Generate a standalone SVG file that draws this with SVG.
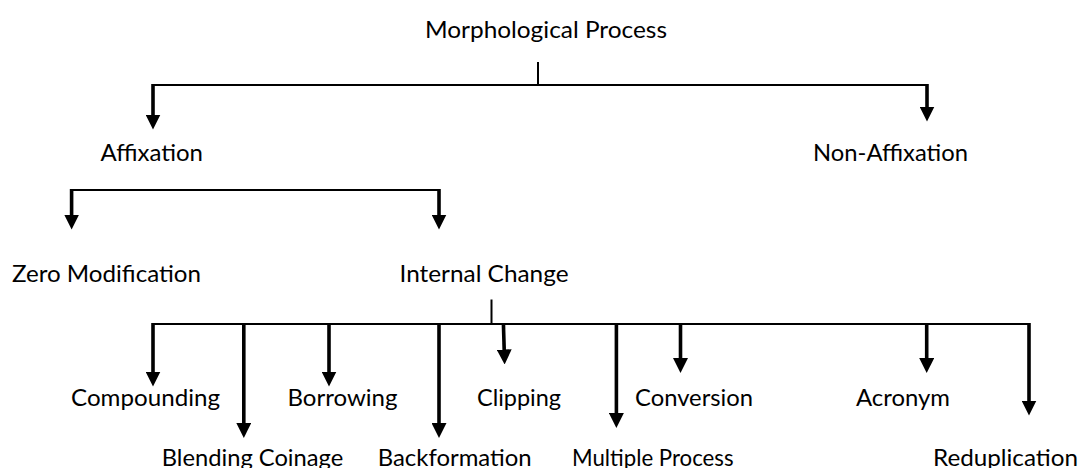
<svg xmlns="http://www.w3.org/2000/svg" width="1081" height="468" viewBox="0 0 1081 468">
  <style>
    .bg { fill: #ffffff; }
    .label { font-family: Lato, "Open Sans", "Liberation Sans", sans-serif; font-size: 23px; fill: #000000; }
    .bar { fill: none; stroke: #000000; stroke-width: 2; }
    .shaft { fill: none; stroke: #000000; stroke-width: 3.6; marker-end: url(#head); }
  </style>
  <defs>
    <marker id="head" viewBox="0 -7.5 15 15" refX="0.5" refY="0" markerWidth="15" markerHeight="15" markerUnits="userSpaceOnUse" orient="auto">
      <path d="M0,-7.5 L15,0 L0,7.5 Z" fill="#000000"/>
    </marker>
  </defs>

  <rect class="bg" x="0" y="0" width="1081" height="468"/>

  <!-- connectors: branch bars, ticks and arrows -->
  <g id="connectors">
    <!-- root split -->
    <path class="bar" d="M538,62 V85"/>
    <path class="bar" d="M152,85 H928"/>
    <path class="shaft" d="M153,84 V115"/>
    <path class="shaft" d="M927,84 V107"/>

    <!-- affixation split -->
    <path class="bar" d="M70.5,190 H440"/>
    <path class="shaft" d="M71.6,189 V215"/>
    <path class="shaft" d="M439,189 V215"/>

    <!-- internal change split -->
    <path class="bar" d="M491.5,299.5 V324"/>
    <path class="bar" d="M152,324 H1030"/>
    <path class="shaft" d="M153,323 V372"/>
    <path class="shaft" d="M243.8,323 V423.5"/>
    <path class="shaft" d="M329,323 V372"/>
    <path class="shaft" d="M439,323 V423.5"/>
    <path class="shaft" d="M503.4,323 L504.2,350"/>
    <path class="shaft" d="M616.4,323 V413.5"/>
    <path class="shaft" d="M680.5,323 V358.5"/>
    <path class="shaft" d="M926.7,323 V358.5"/>
    <path class="shaft" d="M1029,323 V401"/>
  </g>

  <!-- nodes -->
  <g id="node-morphological-process">
    <text class="label" x="425" y="37.5" textLength="242" lengthAdjust="spacingAndGlyphs">Morphological Process</text>
  </g>
  <g id="node-affixation">
    <text class="label" x="100.5" y="161" textLength="102.5" lengthAdjust="spacingAndGlyphs">Affixation</text>
  </g>
  <g id="node-non-affixation">
    <text class="label" x="813" y="161" textLength="155" lengthAdjust="spacingAndGlyphs">Non-Affixation</text>
  </g>
  <g id="node-zero-modification">
    <text class="label" x="12" y="282" textLength="189" lengthAdjust="spacingAndGlyphs">Zero Modification</text>
  </g>
  <g id="node-internal-change">
    <text class="label" x="399.5" y="282" textLength="169" lengthAdjust="spacingAndGlyphs">Internal Change</text>
  </g>
  <g id="node-compounding">
    <text class="label" x="71" y="406" textLength="149" lengthAdjust="spacingAndGlyphs">Compounding</text>
  </g>
  <g id="node-borrowing">
    <text class="label" x="287.5" y="406" textLength="110" lengthAdjust="spacingAndGlyphs">Borrowing</text>
  </g>
  <g id="node-clipping">
    <text class="label" x="477" y="406" textLength="84" lengthAdjust="spacingAndGlyphs">Clipping</text>
  </g>
  <g id="node-conversion">
    <text class="label" x="635" y="406" textLength="118" lengthAdjust="spacingAndGlyphs">Conversion</text>
  </g>
  <g id="node-acronym">
    <text class="label" x="856" y="406" textLength="94" lengthAdjust="spacingAndGlyphs">Acronym</text>
  </g>
  <g id="node-blending-coinage">
    <text class="label" x="161.7" y="466" textLength="181.6" lengthAdjust="spacingAndGlyphs">Blending Coinage</text>
  </g>
  <g id="node-backformation">
    <text class="label" x="377.7" y="466" textLength="154" lengthAdjust="spacingAndGlyphs">Backformation</text>
  </g>
  <g id="node-multiple-process">
    <text class="label" x="572" y="466" textLength="161.5" lengthAdjust="spacingAndGlyphs">Multiple Process</text>
  </g>
  <g id="node-reduplication">
    <text class="label" x="933" y="466" textLength="145" lengthAdjust="spacingAndGlyphs">Reduplication</text>
  </g>
</svg>
